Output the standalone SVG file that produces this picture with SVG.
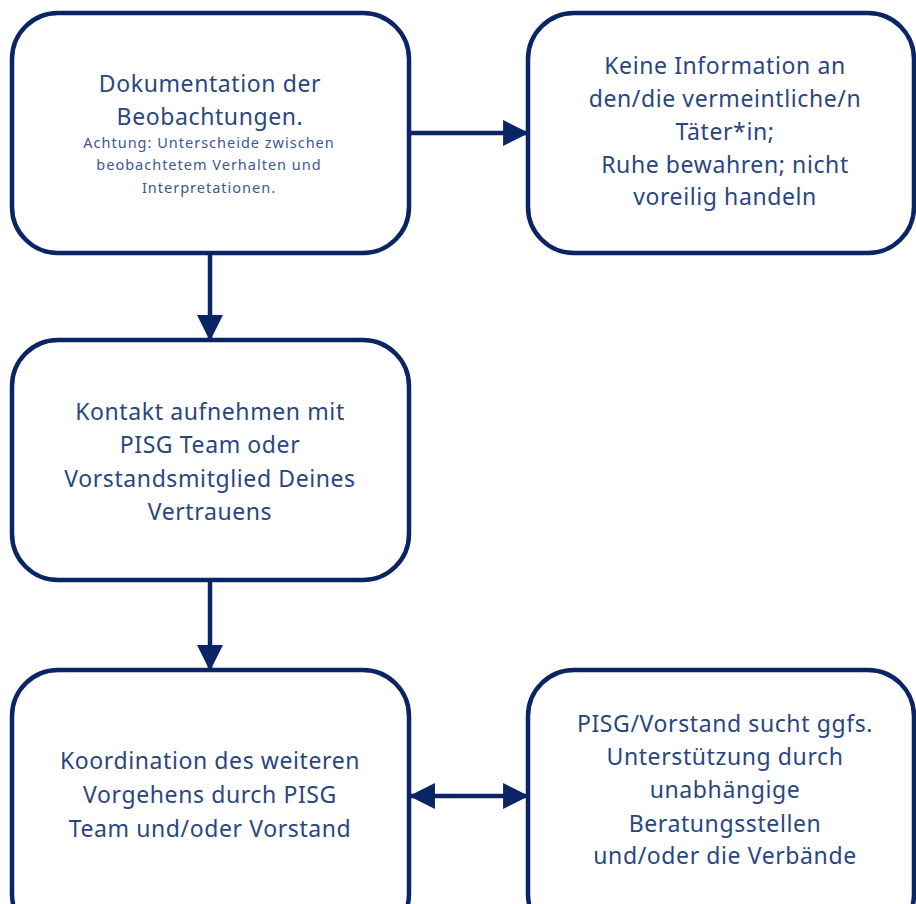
<svg xmlns="http://www.w3.org/2000/svg" width="916" height="904" viewBox="0 0 916 904">
  <style>
    .box { fill: #ffffff; stroke: #0b2463; stroke-width: 4.5; }
    .lbl { font-family: "Noto Sans", "Open Sans", sans-serif; font-size: 23px; letter-spacing: 0.6px; fill: #2a4680; text-anchor: middle; }
    .note { font-family: "Noto Sans", "Open Sans", sans-serif; font-size: 14.5px; letter-spacing: 1px; fill: #3d5890; text-anchor: middle; }
    .conn { fill: none; stroke: #0b2463; stroke-width: 4.5; }
  </style>
  <defs>
    <marker id="head" markerUnits="userSpaceOnUse" markerWidth="26" markerHeight="26" viewBox="0 0 24 24" refX="23" refY="12" orient="auto-start-reverse">
      <path d="M0,0 L24,12 L0,24 Z" fill="#0b2463"/>
    </marker>
  </defs>

  <rect width="916" height="904" fill="#ffffff"/>

  <!-- connectors -->
  <g id="connectors">
    <line class="conn" x1="410" y1="133" x2="528" y2="133" marker-end="url(#head)"/>
    <line class="conn" x1="210" y1="253" x2="210" y2="340" marker-end="url(#head)"/>
    <line class="conn" x1="210" y1="580" x2="210" y2="670" marker-end="url(#head)"/>
    <line class="conn" x1="410" y1="796" x2="528" y2="796" marker-start="url(#head)" marker-end="url(#head)"/>
  </g>

  <!-- step 1: documentation -->
  <g id="node-dokumentation">
    <rect class="box" x="12" y="13" width="397" height="240" rx="46"/>
    <text class="lbl" x="210" y="92">Dokumentation der</text>
    <text class="lbl" x="210" y="125">Beobachtungen.</text>
    <text class="note" x="209" y="148">Achtung: Unterscheide zwischen</text>
    <text class="note" x="209" y="170">beobachtetem Verhalten und</text>
    <text class="note" x="209" y="193">Interpretationen.</text>
  </g>

  <!-- no information to the suspect -->
  <g id="node-keine-information">
    <rect class="box" x="528" y="13" width="386" height="240" rx="46"/>
    <text class="lbl" x="725" y="74">Keine Information an</text>
    <text class="lbl" x="725" y="107">den/die vermeintliche/n</text>
    <text class="lbl" x="725" y="140">Täter*in;</text>
    <text class="lbl" x="725" y="173">Ruhe bewahren; nicht</text>
    <text class="lbl" x="725" y="205">voreilig handeln</text>
  </g>

  <!-- step 2: contact -->
  <g id="node-kontakt">
    <rect class="box" x="12" y="340" width="397" height="240" rx="46"/>
    <text class="lbl" x="210" y="420">Kontakt aufnehmen mit</text>
    <text class="lbl" x="210" y="453">PISG Team oder</text>
    <text class="lbl" x="210" y="487">Vorstandsmitglied Deines</text>
    <text class="lbl" x="210" y="520">Vertrauens</text>
  </g>

  <!-- step 3: coordination -->
  <g id="node-koordination">
    <rect class="box" x="12" y="670" width="397" height="270" rx="46"/>
    <text class="lbl" x="210" y="769">Koordination des weiteren</text>
    <text class="lbl" x="210" y="803">Vorgehens durch PISG</text>
    <text class="lbl" x="210" y="837">Team und/oder Vorstand</text>
  </g>

  <!-- external support -->
  <g id="node-unterstuetzung">
    <rect class="box" x="528" y="670" width="386" height="270" rx="46"/>
    <text class="lbl" x="725" y="732">PISG/Vorstand sucht ggfs.</text>
    <text class="lbl" x="725" y="765">Unterstützung durch</text>
    <text class="lbl" x="725" y="798">unabhängige</text>
    <text class="lbl" x="725" y="832">Beratungsstellen</text>
    <text class="lbl" x="725" y="864">und/oder die Verbände</text>
  </g>
</svg>
